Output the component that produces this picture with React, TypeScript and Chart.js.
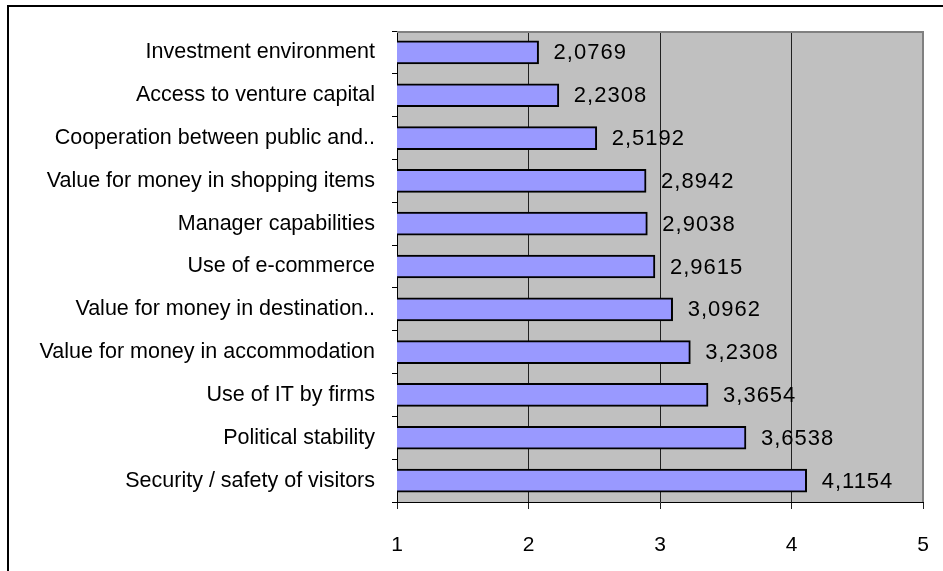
import React, { useEffect, useRef } from "react";
import { Chart, registerables } from "chart.js";

Chart.register(...registerables);

const categories = [
  "Investment environment",
  "Access to venture capital",
  "Cooperation between public and..",
  "Value for money in shopping items",
  "Manager capabilities",
  "Use of e-commerce",
  "Value for money in destination..",
  "Value for money in accommodation",
  "Use of IT by firms",
  "Political stability",
  "Security / safety of visitors",
];
const values = [2.0769, 2.2308, 2.5192, 2.8942, 2.9038, 2.9615, 3.0962, 3.2308, 3.3654, 3.6538, 4.1154];
const xTicks = [1, 2, 3, 4, 5];

const FONT = "'Liberation Sans', Arial, sans-serif";

const fmt = (v: number) => v.toFixed(4).replace(".", ",");

const bgPlugin = {
  id: "bgPlugin",
  beforeDraw(chart: any) {
    const { ctx, chartArea: a } = chart;
    ctx.save();
    ctx.fillStyle = "#ffffff";
    ctx.fillRect(0, 0, chart.width, chart.height);
    ctx.fillStyle = "#C0C0C0";
    ctx.fillRect(a.left, a.top, a.right - a.left, a.bottom - a.top);
    ctx.restore();
  },
  afterDraw(chart: any) {
    const { ctx, chartArea: a } = chart;
    ctx.save();
    ctx.fillStyle = "#808080";
    ctx.fillRect(a.left, a.top, a.right - a.left + 1, 2);
    ctx.fillRect(a.right - 1, a.top, 2, a.bottom - a.top);
    ctx.fillStyle = "#000000";
    ctx.fillRect(7, 5, 2, chart.height - 5);
    ctx.fillRect(7, 5, chart.width - 7, 2);
    ctx.restore();
  },
};

const valueLabels = {
  id: "valueLabels",
  afterDatasetsDraw(chart: any) {
    const { ctx } = chart;
    const meta = chart.getDatasetMeta(0);
    ctx.save();
    ctx.font = `22px ${FONT}`;
    try {
      (ctx as any).letterSpacing = "1px";
    } catch (e) {}
    ctx.fillStyle = "#000";
    ctx.textAlign = "left";
    ctx.textBaseline = "middle";
    meta.data.forEach((bar: any, i: number) => {
      ctx.fillText(fmt(values[i]), bar.x + 15, bar.y + 1);
    });
    ctx.restore();
  },
};

export default function App() {
  const ref = useRef<HTMLCanvasElement>(null);
  useEffect(() => {
    if (!ref.current) return;
    Chart.defaults.font.family = FONT;
    Chart.defaults.color = "#000";
    const chart = new Chart(ref.current, {
      type: "bar",
      data: {
        labels: categories,
        datasets: [
          {
            data: values,
            backgroundColor: "#9999FF",
            borderColor: "#000000",
            borderWidth: 2,
            borderSkipped: false,
            barThickness: 23,
          },
        ],
      },
      options: {
        indexAxis: "y",
        animation: false,
        responsive: false,
        maintainAspectRatio: false,
        layout: { padding: { top: 31, right: 20, left: 0, bottom: 0 } },
        plugins: { legend: { display: false }, tooltip: { enabled: false } },
        scales: {
          x: {
            min: 1,
            max: 5,
            afterBuildTicks: (s: any) => {
              s.ticks = xTicks.map((v) => ({ value: v }));
            },
            afterFit: (s: any) => {
              s.height = 69;
              s.paddingLeft = 0;
              s.paddingRight = 0;
            },
            ticks: { font: { size: 21 }, color: "#000", padding: 24 },
            grid: {
              color: "#202020",
              lineWidth: 1,
              tickLength: 7,
              drawOnChartArea: true,
            },
            border: { color: "#000", width: 1 },
          },
          y: {
            afterFit: (s: any) => {
              s.width = 397;
              s.paddingTop = 0;
              s.paddingBottom = 0;
            },
            ticks: { font: { size: 21.5 }, color: "#000", padding: 17 },
            grid: {
              offset: true,
              drawOnChartArea: false,
              tickLength: 5,
              color: "#000",
            },
            border: { color: "#000", width: 1 },
          },
        },
      },
      plugins: [bgPlugin, valueLabels],
    });
    return () => chart.destroy();
  }, []);
  return (
    <div style={{ position: "fixed", left: 0, top: 0, width: 943, height: 571 }}>
      <canvas ref={ref} width={943} height={571} style={{ display: "block" }} />
    </div>
  );
}
